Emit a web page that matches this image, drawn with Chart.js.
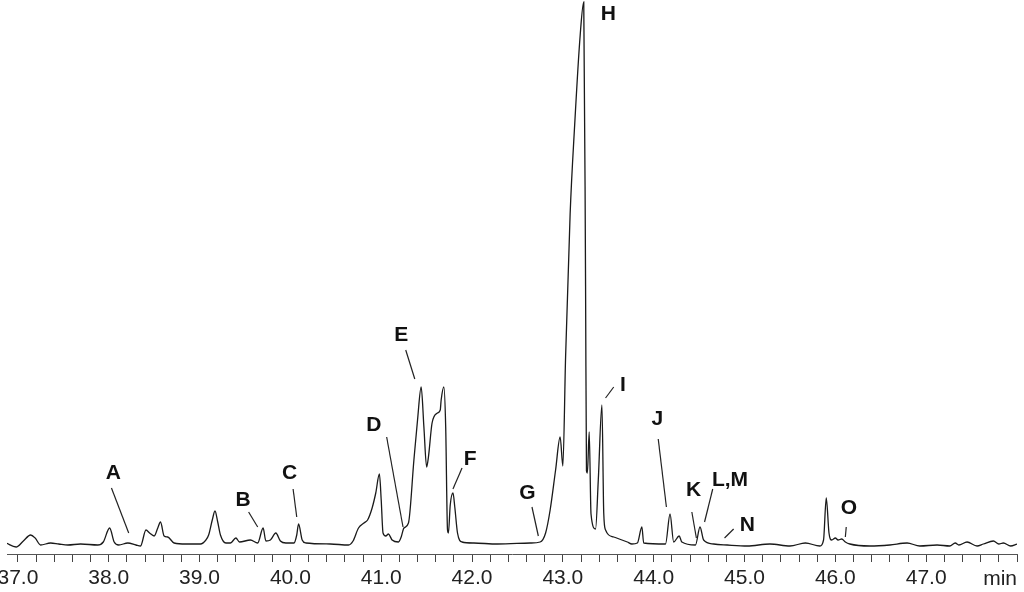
<!DOCTYPE html>
<html>
<head>
<meta charset="utf-8">
<script src="https://cdn.jsdelivr.net/npm/chart.js@4.4.0/dist/chart.umd.min.js"></script>
<style>
    html, body { margin: 0; padding: 0; background: #fff; }
</style>
</head>
<body>
<canvas id="myChart" width="1024" height="592"></canvas>
<script>
// retention time (min) and detector signal
var retentionTime = [36.87, 36.98, 37.06, 37.14, 37.19, 37.25, 37.36, 37.45, 37.55, 37.69, 37.88, 37.94, 38.01, 38.06, 38.11,
    38.21, 38.30, 38.35, 38.41, 38.45, 38.50, 38.54, 38.57, 38.61, 38.65, 38.72, 38.85, 39.01, 39.07, 39.10, 39.14, 39.17,
    39.20, 39.23, 39.29, 39.34, 39.40, 39.44, 39.56, 39.64, 39.70, 39.73, 39.78, 39.84, 39.89, 39.95, 40.04, 40.07, 40.09,
    40.13, 40.17, 40.44, 40.64, 40.69, 40.75, 40.81, 40.85, 40.90, 40.94, 40.98, 41.00, 41.02, 41.05, 41.08, 41.12, 41.19,
    41.22, 41.25, 41.30, 41.36, 41.40, 41.44, 41.47, 41.50, 41.52, 41.56, 41.62, 41.65, 41.66, 41.69, 41.71, 41.73, 41.74,
    41.76, 41.79, 41.81, 41.84, 41.89, 42.02, 42.28, 42.64, 42.75, 42.81, 42.86, 42.92, 42.97, 43.00, 43.03, 43.08, 43.13,
    43.19, 43.23, 43.25, 43.26, 43.27, 43.29, 43.31, 43.36, 43.39, 43.43, 43.45, 43.47, 43.56, 43.71, 43.76, 43.82, 43.87,
    43.89, 44.13, 44.18, 44.22, 44.28, 44.31, 44.46, 44.51, 44.55, 44.66, 44.81, 45.03, 45.28, 45.50, 45.67, 45.83, 45.87,
    45.90, 45.93, 45.96, 46.00, 46.03, 46.07, 46.11, 46.16, 46.38, 46.60, 46.79, 46.93, 47.12, 47.26, 47.32, 47.36, 47.45,
    47.56, 47.63, 47.74, 47.80, 47.85, 47.93, 48.00];
var signal = [11, 7, 13, 19, 16, 9, 11, 10, 9, 10, 9, 12, 26, 12, 9,
    11, 9, 8, 24, 21, 18, 26, 32, 18, 17, 11, 10, 10, 14, 19, 34, 43,
    32, 19, 11, 11, 16, 12, 14, 11, 26, 13, 14, 21, 13, 11, 11, 19, 30,
    14, 11, 10, 9, 13, 26, 31, 34, 46, 61, 80, 54, 21, 18, 20, 14, 12,
    17, 26, 31, 94, 134, 167, 127, 87, 97, 131, 141, 144, 154, 167, 127, 24, 21,
    49, 61, 47, 21, 12, 11, 10, 11, 12, 21, 44, 84, 117, 88, 197, 340, 429,
    518, 552, 268, 83, 81, 122, 40, 25, 74, 149, 41, 24, 17, 12, 10, 11, 27,
    11, 10, 40, 12, 18, 12, 9, 27, 14, 10, 9, 8, 10, 8, 11, 8, 14,
    56, 21, 14, 16, 14, 15, 12, 10, 8, 9, 11, 8, 9, 8, 11, 9, 12,
    8, 10, 13, 10, 11, 8, 10];

var tickLabels = ['37.0', '38.0', '39.0', '40.0', '41.0', '42.0', '43.0', '44.0', '45.0', '46.0', '47.0'];
var unitLabel = 'min';

// peak labels: text position and leader line, in (time, signal)
var peakNames = ['A', 'B', 'C', 'D', 'E', 'F', 'G', 'H', 'I', 'J', 'K', 'L,M', 'N', 'O'];
var peakTextAt = [[38.05, 81], [39.48, 54], [39.99, 81], [40.92, 129], [41.22, 219], [41.98, 95], [42.61, 61],
    [43.50, 540], [43.66, 169], [44.04, 135], [44.44, 64], [44.84, 74], [45.03, 29], [46.15, 46]];
var peakLineFrom = [[38.03, 66], [39.54, 42], [40.03, 65], [41.06, 117], [41.27, 204], [41.89, 86], [42.66, 47],
    null, [43.56, 167], [44.05, 115], [44.42, 42], [44.65, 65], [44.88, 25], [46.12, 27]];
var peakLineTo = [[38.22, 21], [39.64, 27], [40.07, 37], [41.24, 27], [41.37, 175], [41.79, 65], [42.73, 18],
    null, [43.47, 156], [44.14, 47], [44.47, 16], [44.56, 32], [44.78, 16], [46.11, 17]];

var points = retentionTime.map(function (t, i) {
    return {x: t, y: signal[i]};
});

var peakLabels = {
    id: 'peakLabels',
    afterDatasetsDraw: function (chart) {
        var ctx = chart.ctx, sx = chart.scales.x, sy = chart.scales.y;
        ctx.save();
        ctx.strokeStyle = '#222';
        ctx.lineWidth = 1.2;
        ctx.fillStyle = '#111';
        ctx.font = 'bold 21px "Liberation Sans", Arial, sans-serif';
        ctx.textAlign = 'center';
        ctx.textBaseline = 'middle';
        peakNames.forEach(function (name, i) {
            var a = peakLineFrom[i], b = peakLineTo[i];
            if (a && b) {
                ctx.beginPath();
                ctx.moveTo(sx.getPixelForValue(a[0]), sy.getPixelForValue(a[1]));
                ctx.lineTo(sx.getPixelForValue(b[0]), sy.getPixelForValue(b[1]));
                ctx.stroke();
            }
            ctx.fillText(name, sx.getPixelForValue(peakTextAt[i][0]), sy.getPixelForValue(peakTextAt[i][1]));
        });
        // unit at the end of the time axis
        ctx.font = '21px "Liberation Sans", Arial, sans-serif';
        ctx.fillStyle = '#222';
        ctx.textAlign = 'right';
        ctx.fillText(unitLabel, sx.right, chart.chartArea.bottom + 25);
        ctx.restore();
    }
};

var ctx = document.getElementById('myChart').getContext('2d');
var myChart = new Chart(ctx, {
    type: 'line',
    data: {
        datasets: [{
            data: points,
            borderColor: '#1a1a1a',
            borderWidth: 1.3,
            pointRadius: 0,
            fill: false,
            cubicInterpolationMode: 'monotone'
        }]
    },
    options: {
        responsive: false,
        animation: false,
        layout: {padding: {left: 7, right: 7, top: 0, bottom: 2}},
        plugins: {legend: {display: false}, tooltip: {enabled: false}},
        scales: {
            x: {
                type: 'linear',
                min: 36.88,
                max: 48.0,
                border: {display: true, color: '#555', width: 1},
                grid: {drawOnChartArea: false, drawTicks: true, tickLength: 8, color: '#444'},
                ticks: {
                    stepSize: 0.2,
                    includeBounds: false,
                    autoSkip: false,
                    maxRotation: 0,
                    padding: 4,
                    color: '#222',
                    font: {family: '"Liberation Sans", Arial, sans-serif', size: 21},
                    callback: function (value) {
                        var r = Math.round(value);
                        if (Math.abs(value - r) > 1e-6) return '';
                        return tickLabels[r - 37] || '';
                    }
                },
                afterFit: function (scale) {
                    scale.paddingLeft = 0;
                    scale.paddingRight = 0;
                    scale.height = 36;
                }
            },
            y: {
                display: false,
                min: 0,
                max: 554
            }
        }
    },
    plugins: [peakLabels]
});
</script>
</body>
</html>
